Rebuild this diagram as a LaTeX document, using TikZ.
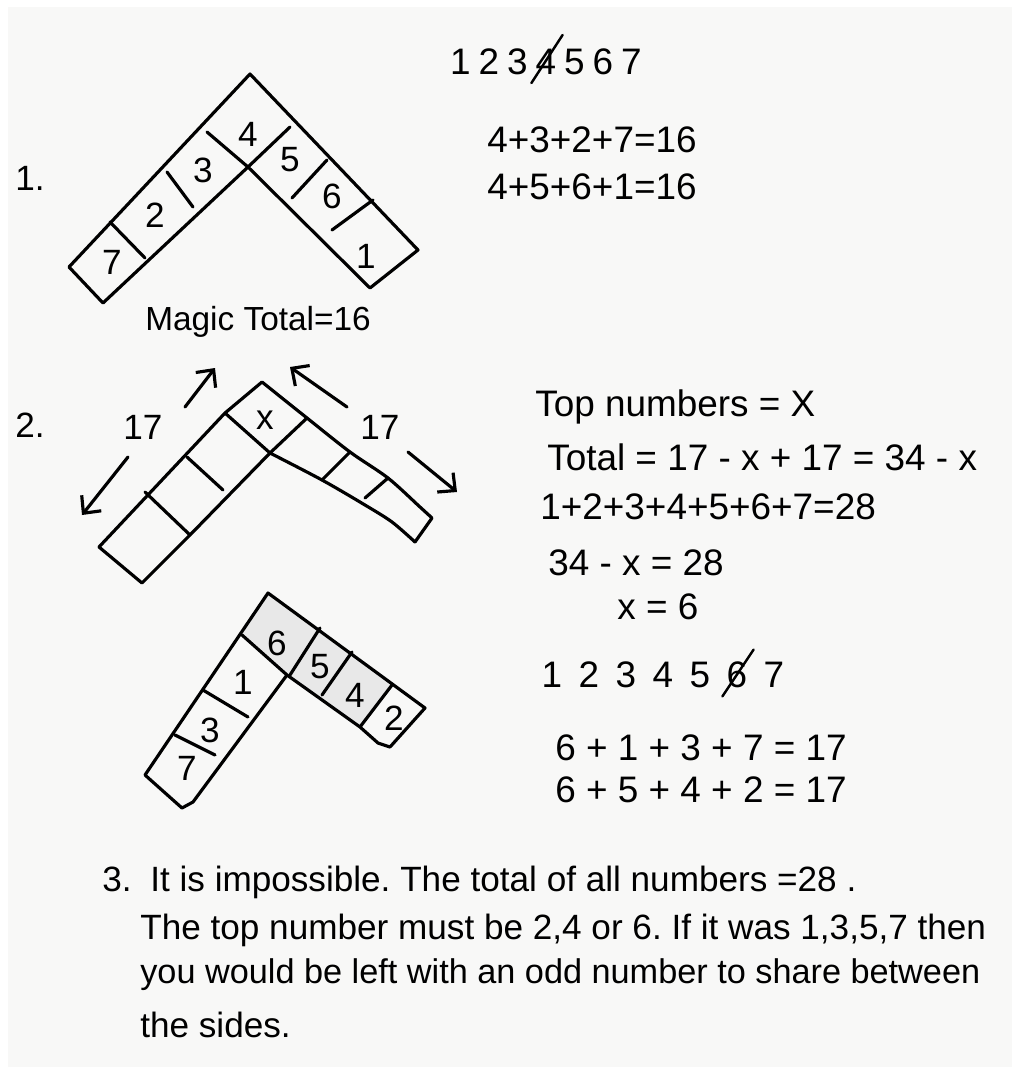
\documentclass[tikz,border=0pt]{standalone}
\usepackage{fontspec}
\setmainfont{Liberation Sans}
\usetikzlibrary{arrows.meta, positioning, calc}
\definecolor{paper}{RGB}{248,248,247}
\frenchspacing

\begin{document}
\begin{tikzpicture}[x=0.02cm, y=-0.02cm,
  ink/.style={line width=1.8pt, line join=round, line cap=round},
  arr/.style={ink, -{Straight Barb[length=2.6mm, width=5mm]}},
  strike/.style={line width=1.4pt, line cap=round},
  cellnum/.style={font=\fontsize{20}{24}\selectfont, inner sep=0pt},
  hand/.style={font=\fontsize{21}{25}\selectfont, anchor=west, inner sep=0pt},
  note/.style={font=\fontsize{20}{24}\selectfont, anchor=west, inner sep=0pt},
  shade/.style={fill=black!9}
]
\useasboundingbox (0,0) rectangle (1013,1086);
\fill[paper] (8,7) rectangle (1012,1067);

% ----- Part 1: magic V -----
\node[note] (lbl1) at (15,178) {1.};
\draw[ink] (250,74) -- (418,250) -- (370,288) -- (248,167) -- (103,303) -- (69,267) -- cycle;
\draw[ink] (207,132) -- (248,167) -- (290,127);
\draw[ink] (167,172) -- (193,207);
\draw[ink] (110,222) -- (145,258);
\draw[ink] (327,160) -- (292,198);
\draw[ink] (373,200) -- (332,230);
\node[cellnum] (a7) at (112,262) {7};
\node[cellnum] (a2) at (155,215) {2};
\node[cellnum] (a3) at (203,170) {3};
\node[cellnum] (a4) at (248,134) {4};
\node[cellnum] (a5) at (290,160) {5};
\node[cellnum] (a6) at (332,196) {6};
\node[cellnum] (a1) at (366,256) {1};
\node[cellnum, font=\fontsize{19}{23}\selectfont] (magic) at (258,322) {Magic Total=16};

% working for part 1
\foreach \d in {1,...,7}
  \node[hand, anchor=center] (top\d) at ({432+28.5*\d},62) {\d};
\draw[strike] ($(top4.south west)+(-4,8)$) -- ($(top4.north east)+(6,-14)$);
\node[hand] (sumA) at (487,140) {4+3+2+7=16};
\node[hand] (sumB) at (487,187) {4+5+6+1=16};

% ----- Part 2: sides of 17 -----
\node[note] (lbl2) at (15,425) {2.};
\draw[ink] (99,547) -- (225,413) -- (262,382)
  plot[smooth, tension=0.5] coordinates {(262,382) (307,418) (350,452) (388,478) (420,507) (432,518)}
  -- (415,542);
\draw[ink] plot[smooth, tension=0.5] coordinates {(415,542) (392,522) (365,505) (322,480) (270,453)};
\draw[ink] (270,453) -- (190,535) -- (142,583) -- (99,547);
\draw[ink] (225,413) -- (270,453) -- (307,418);
\draw[ink] (187,457) -- (223,490);
\draw[ink] (145,492) -- (190,535);
\draw[ink] (350,452) -- (322,480);
\draw[ink] (388,478) -- (365,498);
\node[cellnum] (bx) at (265,420) {x};
\coordinate (l1) at (128,457); \coordinate (l2) at (82,515);
\coordinate (l3) at (185,407); \coordinate (l4) at (215,368);
\coordinate (r1) at (347,407); \coordinate (r2) at (290,367);
\coordinate (r3) at (408,452); \coordinate (r4) at (457,492);
\draw[arr] (l1) -- (l2);
\draw[arr] (l3) -- (l4);
\draw[arr] (r1) -- (r2);
\draw[arr] (r3) -- (r4);
\node[cellnum] (sideL) at (143,427) {17};
\node[cellnum] (sideR) at (380,427) {17};

% solution L
\fill[shade] (268,593) -- (392,685) -- (360,727) -- (287,675) -- (242,635) -- cycle;
\draw[ink] (268,593) -- (425,708) -- (390,747) -- (378,743) -- (360,727) -- (287,675)
  -- (193,802) -- (182,808) -- (145,775) -- cycle;
\draw[ink] (242,635) -- (287,675);
\draw[ink] (320,628) -- (290,675);
\draw[ink] (352,652) -- (322,695);
\draw[ink] (392,685) -- (360,727);
\draw[ink] (203,690) -- (248,717);
\draw[ink] (175,735) -- (215,755);
\node[cellnum] (c6) at (277,643) {6};
\node[cellnum] (c5) at (320,667) {5};
\node[cellnum] (c4) at (355,695) {4};
\node[cellnum] (c2) at (394,718) {2};
\node[cellnum] (c1) at (243,682) {1};
\node[cellnum] (c3) at (210,730) {3};
\node[cellnum] (c7) at (187,768) {7};

% working for part 2
\node[hand] (topx) at (535,407) {Top numbers = X};
\node[hand] (total) at (547,457) {Total = 17 - x + 17 = 34 - x};
\node[hand] (all) at (540,507) {1+2+3+4+5+6+7=28};
\node[hand] (eqA) at (548,563) {34 - x = 28};
\node[hand] (eqB) at (617,607) {x = 6};
\foreach \d in {1,...,7}
  \node[hand, anchor=center] (low\d) at ({515+37*\d},675) {\d};
\draw[strike] ($(low6.south west)+(-4,8)$) -- ($(low6.north east)+(6,-12)$);
\node[hand] (sideA) at (555,748) {6 + 1 + 3 + 7 = 17};
\node[hand] (sideB) at (555,790) {6 + 5 + 4 + 2 = 17};

% ----- Part 3: answer -----
\node[note] (ln1) at (150,882) {It is impossible. The total of all numbers =28 .};
\node[note, anchor=base east] (lbl3) at ($(ln1.base west)+(-18,0)$) {3.};
\node[note] (ln2) at (140,930) {The top number must be 2,4 or 6. If it was 1,3,5,7 then};
\node[note, font=\fontsize{19.5}{24}\selectfont] (ln3) at (140,975) {you would be left with an odd number to share between};
\node[note] (ln4) at (140,1025) {the sides.};
\end{tikzpicture}
\end{document}
